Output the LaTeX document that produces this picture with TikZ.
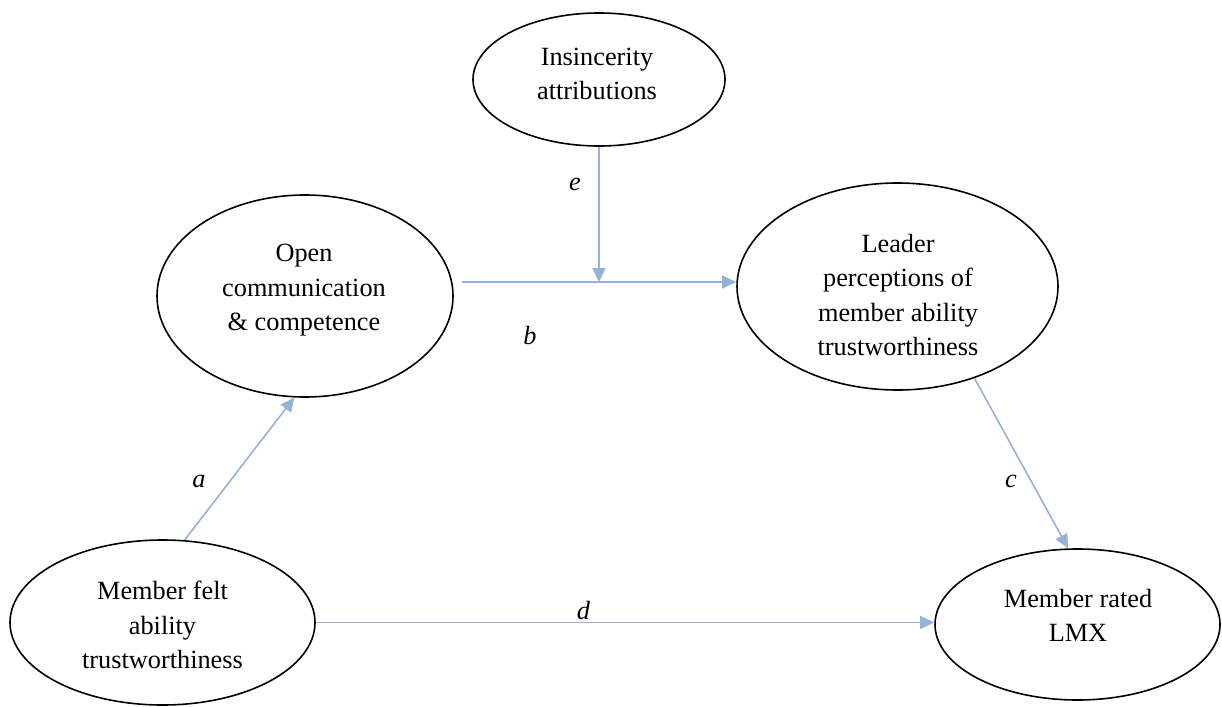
\documentclass[tikz,border=0pt]{standalone}
\usepackage{fontspec}
\setmainfont{Liberation Serif}
\usetikzlibrary{shapes.geometric,arrows.meta}
\definecolor{pathblue}{HTML}{95B3D7}
\begin{document}
\begin{tikzpicture}[x=1pt,y=-1pt,
  construct/.style={draw=black,line width=1.6pt,ellipse,inner sep=0pt},
  caption/.style={align=center,font=\fontsize{26.3}{34.5}\selectfont,inner sep=0pt},
  pathlabel/.style={font=\fontsize{26.3}{30}\selectfont\itshape,inner sep=0pt},
  link/.style={draw=pathblue,line width=1.6pt,-{Triangle[length=14pt,width=13pt]}}]

\useasboundingbox (0,0) rectangle (1222,706);

% constructs
\node[construct,minimum width=252pt,minimum height=133pt] (ins) at (599,79.5) {};
\node[construct,minimum width=296pt,minimum height=202pt] (open) at (305,296) {};
\node[construct,minimum width=321pt,minimum height=207pt] (lead) at (897.5,286.5) {};
\node[construct,minimum width=305pt,minimum height=165pt] (felt) at (162.5,622.5) {};
\node[construct,minimum width=285pt,minimum height=151pt] (rated) at (1077.5,624.5) {};

% construct names
\node[caption] (ins-t) at (597,73.8) {Insincerity\\attributions};
\node[caption] (open-t) at (304,290.5) {Open\\communication\\\& competence};
\node[caption] (lead-t) at (898,294.9) {Leader\\perceptions of\\member ability\\trustworthiness};
\node[caption] (felt-t) at (162.5,625.2) {Member felt\\ability\\trustworthiness};
\node[caption] (rated-t) at (1078,615.5) {Member rated\\LMX};

% paths
\coordinate (bstart) at (462,282);
\draw[link] (bstart) -- (bstart -| lead.west);
\draw[link] (ins.south) -- (ins.south |- bstart);
\draw[link] (felt.75) -- (open.264);
\draw[link] (lead.310) -- (rated.97);
\draw[link] (felt.east) -- (felt.east -| rated.west);

% path labels
\node[pathlabel] (lab-e) at (575,184) {e};
\node[pathlabel] (lab-b) at (530,336) {b};
\node[pathlabel] (lab-a) at (199,481) {a};
\node[pathlabel] (lab-c) at (1011,481) {c};
\node[pathlabel] (lab-d) at (583.5,611) {d};
\end{tikzpicture}
\end{document}
